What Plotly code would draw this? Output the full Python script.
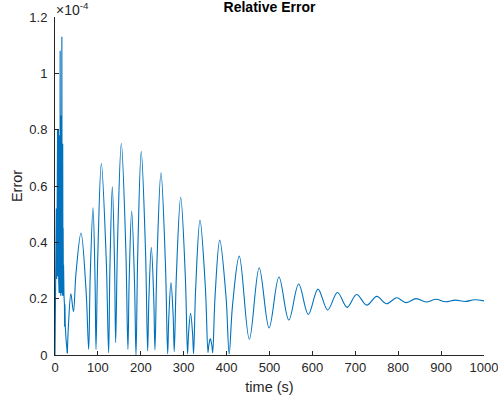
import numpy as np
import plotly.graph_objects as go

# Relative error history, values in units of 1e-4
# start-up transient (sampled coarsely, drawn with straight segments)
t_start = [0, 1, 2, 3, 4, 5, 5.5, 6, 6.5, 7, 7.5, 8, 8.5, 9, 9.5, 10, 10.5, 11,
           11.5, 12, 12.5, 13, 13.5, 14, 14.5, 15, 15.5, 16, 16.5, 17, 17.5,
           18, 18.5, 19, 19.5, 20, 21, 22, 22.5, 23, 24, 26, 28.8]
err_start = [0, 0.15, 0.3, 0.52, 0.27, 0.55, 0.3, 0.8, 0.28, 0.75, 0.3, 0.8,
             0.27, 0.62, 0.22, 0.78, 0.25, 0.9, 0.22, 1.08, 0.3, 0.7, 0.21,
             0.85, 0.25, 1.0, 0.22, 1.13, 0.3, 0.6, 0.21, 0.75, 0.22, 0.45,
             0.21, 0.32, 0.21, 0.18, 0.1, 0.18, 0.1, 0.05, 0.006]

# oscillating part after the transient
t_osc = [28.8, 31.5, 37, 43, 48.9, 60.6, 72.5, 78.5, 81.9, 88.6, 93.3, 95.6,
         99.7, 108, 119.3, 125, 127.9, 133.6, 138.8, 141.4, 145.8, 154.6,
         164.9, 170, 172.9, 178.7, 185.4, 188.8, 192.9, 201, 211, 216, 218.8,
         224.5, 230.2, 233, 237.7, 247, 257.4, 262.6, 265.2, 270.4, 275.5,
         278, 283, 293, 303.7, 309, 311.3, 316, 320.7, 323, 328, 338, 350.4,
         356.6, 358.4, 362, 365.7, 367.6, 373.1, 384, 398.7, 406, 413.9,
         429.6, 453, 476, 499, 522, 545, 568, 590.5, 613, 635.6, 658.5, 681,
         703, 726.6, 750, 773, 796.5, 818, 841.5, 865, 888, 910, 933, 956,
         978, 1000]
err_osc = [0.006, 0.11, 0.217, 0.154, 0.29, 0.433, 0.226, 0.02, 0.27, 0.523,
           0.27, 0.02, 0.35, 0.68, 0.344, 0.008, 0.30, 0.597, 0.32, 0.044,
           0.40, 0.751, 0.385, 0.02, 0.265, 0.511, 0.255, 0.0, 0.36, 0.722,
           0.368, 0.014, 0.198, 0.382, 0.2, 0.018, 0.33, 0.647, 0.325, 0.004,
           0.13, 0.257, 0.135, 0.012, 0.286, 0.56, 0.282, 0.004, 0.076, 0.148,
           0.076, 0.004, 0.24, 0.479, 0.243, 0.008, 0.033, 0.058, 0.033,
           0.008, 0.208, 0.408, 0.206, 0.004, 0.178, 0.351, 0.056, 0.31,
           0.096, 0.277, 0.124, 0.252, 0.144, 0.234, 0.16, 0.222, 0.169,
           0.215, 0.177, 0.208, 0.182, 0.203, 0.186, 0.2, 0.188, 0.198, 0.189,
           0.195, 0.19, 0.196, 0.192]

x_ticks = [0, 100, 200, 300, 400, 500, 600, 700, 800, 900, 1000]
y_ticks = [0, 0.2, 0.4, 0.6, 0.8, 1.0, 1.2]
y_tick_text = ["0", "0.2", "0.4", "0.6", "0.8", "1", "1.2"]

SCALE = 1e-4
LINE = "#0072BD"
AX = "#262626"
FONT = "Liberation Sans, Arial, Helvetica, sans-serif"
TICK_SIZE = 13
LABEL_SIZE = 14.5

fig = go.Figure()
fig.add_trace(go.Scatter(
    x=t_start, y=np.array(err_start) * SCALE, mode="lines",
    line=dict(color=LINE, width=1.1), showlegend=False, hoverinfo="skip"))
fig.add_trace(go.Scatter(
    x=t_osc, y=np.array(err_osc) * SCALE, mode="lines",
    line=dict(color=LINE, width=1.1, shape="spline", smoothing=1.0),
    showlegend=False, hoverinfo="skip"))

fig.update_layout(
    width=498, height=407,
    margin=dict(l=55, r=14, t=17, b=52, autoexpand=False),
    paper_bgcolor="white", plot_bgcolor="white",
    font=dict(family=FONT, size=TICK_SIZE, color=AX),
    title=dict(text="<b>Relative Error</b>", x=0.5,
               xanchor="center", y=1 - 7 / 407, yanchor="middle",
               xref="paper", yref="container",
               font=dict(family=FONT, size=14, color="black")),
    xaxis=dict(range=[0, 1000], tickvals=x_ticks, showgrid=False,
               zeroline=False, showline=True, linecolor=AX, linewidth=1,
               ticks="inside", ticklen=4, tickcolor=AX, tickwidth=1,
               automargin=False, ticklabeloverflow="allow",
               tickfont=dict(size=TICK_SIZE, color=AX),
               title=dict(text="time (s)",
                          font=dict(size=LABEL_SIZE, color=AX),
                          standoff=8)),
    yaxis=dict(range=[0, 1.2 * SCALE],
               tickvals=[v * SCALE for v in y_ticks], ticktext=y_tick_text,
               showgrid=False, zeroline=False, showline=True, linecolor=AX,
               linewidth=1, ticks="inside", ticklen=4, tickcolor=AX,
               tickwidth=1, automargin=False, ticklabelstandoff=4,
               ticklabeloverflow="allow",
               tickfont=dict(size=TICK_SIZE, color=AX),
               title=dict(text="Error",
                          font=dict(size=LABEL_SIZE, color=AX),
                          standoff=3)),
)

# exponent multiplier above the y axis
fig.add_annotation(text="×10<sup>-4</sup>", xref="paper", yref="paper",
                   x=0, y=1, xanchor="left", yanchor="bottom", showarrow=False,
                   xshift=-1, yshift=-3,
                   font=dict(family=FONT, size=14, color=AX))

fig.write_html("out.html")
